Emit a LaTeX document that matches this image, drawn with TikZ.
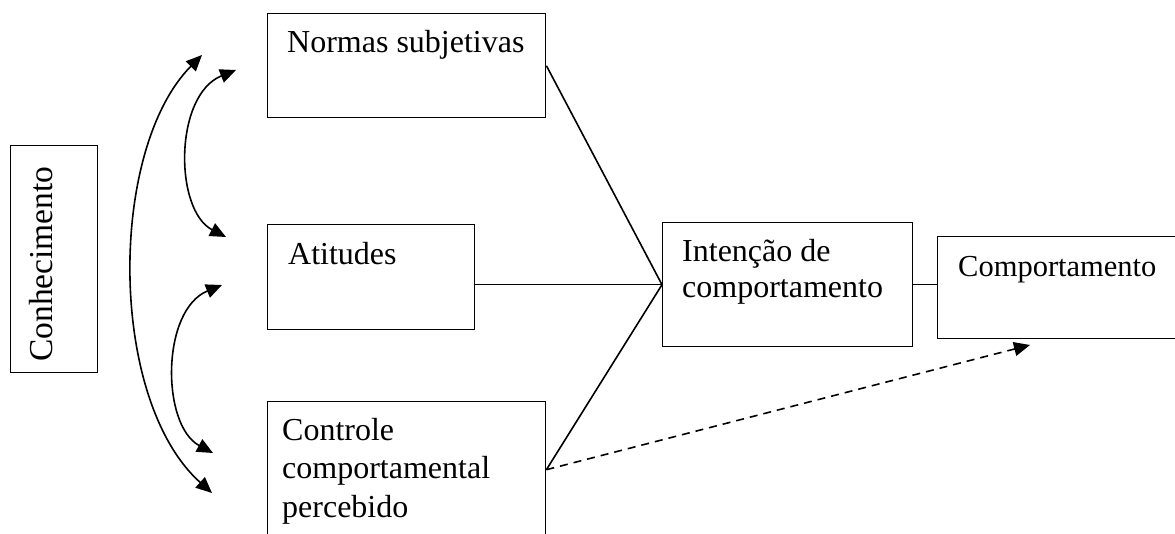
\documentclass[tikz,border=0pt]{standalone}
\usepackage{fontspec}
\setmainfont{Liberation Serif}
\usetikzlibrary{arrows.meta}
\begin{document}
\begin{tikzpicture}[x=1pt,y=-1pt,
  box/.style={draw, line width=1.4pt, rectangle, inner sep=0pt, anchor=north west},
  txt/.style={inner sep=0pt, anchor=base west, font=\fontsize{32}{38}\selectfont},
  conn/.style={line width=1.6pt},
  dashconn/.style={line width=1.6pt, dash pattern=on 8pt off 6pt, -{Triangle[length=16pt,width=14pt]}},
  arcarrow/.style={line width=1.6pt, {Triangle[length=16pt,width=14pt]}-{Triangle[length=16pt,width=14pt]}}]
\useasboundingbox (0,0) rectangle (1175,534);
\clip (0,0) rectangle (1175,534);
% boxes
\node[box, minimum width=87pt, minimum height=227pt] (kn) at (10,145) {};
\node[txt, rotate=90, font=\fontsize{33.5}{38}\selectfont] (knt) at (52,362) {Conhecimento};
\node[box, minimum width=278pt, minimum height=104pt] (norm) at (267,13) {};
\node[txt] (normt) at (287,53) {Normas subjetivas};
\node[box, minimum width=207pt, minimum height=105pt] (att) at (267,224) {};
\node[txt] (attt) at (288,265) {Atitudes};
\node[box, minimum width=278pt, minimum height=136pt] (ctrl) at (267,401) {};
\node[txt] (ctrl1) at (282,440) {Controle};
\node[txt] (ctrl2) at (282,478) {comportamental};
\node[txt] (ctrl3) at (282,517) {percebido};
\node[box, minimum width=250pt, minimum height=124pt] (inten) at (662,222) {};
\node[txt] (inten1) at (682,262) {Intenção de};
\node[txt] (inten2) at (682,298) {comportamento};
\node[box, minimum width=260pt, minimum height=102pt] (comp) at (937,236) {};
\node[txt, font=\fontsize{30.5}{38}\selectfont] (compt) at (958,277) {Comportamento};
% connectors
\draw[conn] (norm.east) -- (inten.west);
\draw[conn] (att.east |- inten.west) -- (inten.west);
\draw[conn] (ctrl.east) -- (inten.west);
\draw[conn] (inten.east) -- (inten.east -| comp.west);
\coordinate (dtip) at (1030,345);
\draw[dashconn] (ctrl.east) -- (dtip);
% curved double arrows
\coordinate (a1s) at (202,55);
\coordinate (a1e) at (212,493);
\coordinate (a2s) at (236,70);
\coordinate (a2e) at (226,237);
\coordinate (a3s) at (222,285);
\coordinate (a3e) at (213,453);
\draw[arcarrow] (a1s) .. controls (108,150) and (108,400) .. (a1e);
\draw[arcarrow] (a2s) .. controls (174,95) and (174,210) .. (a2e);
\draw[arcarrow] (a3s) .. controls (161,310) and (161,425) .. (a3e);
\end{tikzpicture}
\end{document}
